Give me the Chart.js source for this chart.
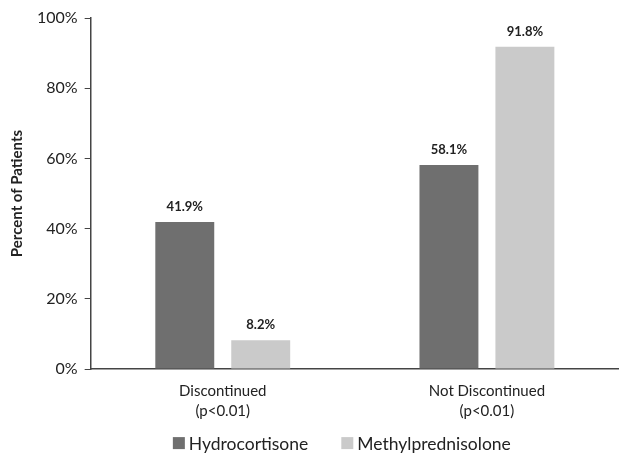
<!DOCTYPE html>
<html>
<head>
<meta charset="utf-8">
<script src="https://cdn.jsdelivr.net/npm/chart.js@4"></script>
<style>
  html, body { margin: 0; padding: 0; background: #fff; }
  #wrap { width: 619px; height: 455px; }
</style>
</head>
<body>
<div id="wrap"><canvas id="c" width="619" height="455"></canvas></div>
<script>
const categories = [["Discontinued", "(p<0.01)"], ["Not Discontinued", "(p<0.01)"]];
const hydrocortisone = [41.9, 58.1];
const methylprednisolone = [8.2, 91.8];
const yTicks = [0, 20, 40, 60, 80, 100];

const FONT = "Lato, 'Open Sans', sans-serif";

// Writes each bar's value just above it
const valueLabels = {
  id: "valueLabels",
  afterDatasetsDraw(chart) {
    const ctx = chart.ctx;
    ctx.save();
    ctx.font = "bold 13px " + FONT;
    ctx.fillStyle = "#222";
    ctx.textAlign = "center";
    ctx.textBaseline = "middle";
    chart.data.datasets.forEach((ds, i) => {
      chart.getDatasetMeta(i).data.forEach((bar, j) => {
        ctx.fillText(ds.data[j].toFixed(1) + "%", bar.x, bar.y - 15);
      });
    });
    ctx.restore();
  }
};

// Series key along the bottom: square swatch, small gap, name; wide gap between entries
const bottomKey = {
  id: "bottomKey",
  afterDraw(chart) {
    const ctx = chart.ctx;
    const box = 12, gapText = 4, gapItem = 33;
    ctx.save();
    ctx.font = "17.5px " + FONT;
    ctx.textBaseline = "middle";
    ctx.textAlign = "left";
    const items = chart.data.datasets.map(ds => ({
      text: ds.label, color: ds.backgroundColor, w: ctx.measureText(ds.label).width
    }));
    const total = items.reduce((s, it) => s + box + gapText + it.w, 0) + gapItem * (items.length - 1);
    const cx = (chart.chartArea.left + chart.chartArea.right) / 2 - 13;
    const cy = chart.chartArea.bottom + 74;
    let x = cx - total / 2;
    items.forEach(it => {
      ctx.fillStyle = it.color;
      ctx.fillRect(x, cy - box / 2, box, box);
      x += box + gapText;
      ctx.fillStyle = "#222";
      ctx.fillText(it.text, x, cy + 1);
      x += it.w + gapItem;
    });
    ctx.restore();
  }
};

new Chart(document.getElementById("c"), {
  type: "bar",
  data: {
    labels: categories,
    datasets: [
      { label: "Hydrocortisone", data: hydrocortisone, backgroundColor: "#6f6f6f",
        categoryPercentage: 0.575, barPercentage: 0.776 },
      { label: "Methylprednisolone", data: methylprednisolone, backgroundColor: "#cacaca",
        categoryPercentage: 0.575, barPercentage: 0.776 }
    ]
  },
  options: {
    responsive: false,
    animation: false,
    layout: { padding: { top: 18, right: 0, left: 4, bottom: 22 } },
    plugins: {
      legend: { display: false },
      tooltip: { enabled: false }
    },
    scales: {
      x: {
        grid: { display: false, drawTicks: false },
        border: { display: true, color: "#444", width: 1.5 },
        ticks: { font: { family: FONT, size: 15, lineHeight: 1.33 }, color: "#222", padding: 12 }
      },
      y: {
        min: 0, max: 100,
        afterBuildTicks(scale) { scale.ticks = yTicks.map(v => ({ value: v })); },
        grid: { drawOnChartArea: false, drawTicks: true, tickLength: 6, color: "#444" },
        border: { display: true, color: "#444", width: 1.5 },
        ticks: {
          font: { family: FONT, size: 16 }, color: "#222", padding: 7,
          callback: v => v + "%"
        },
        title: {
          display: true, text: "Percent of Patients",
          font: { family: FONT, size: 15, weight: "bold" }, color: "#222",
          padding: { bottom: 4 }
        }
      }
    }
  },
  plugins: [valueLabels, bottomKey]
});
</script>
</body>
</html>
